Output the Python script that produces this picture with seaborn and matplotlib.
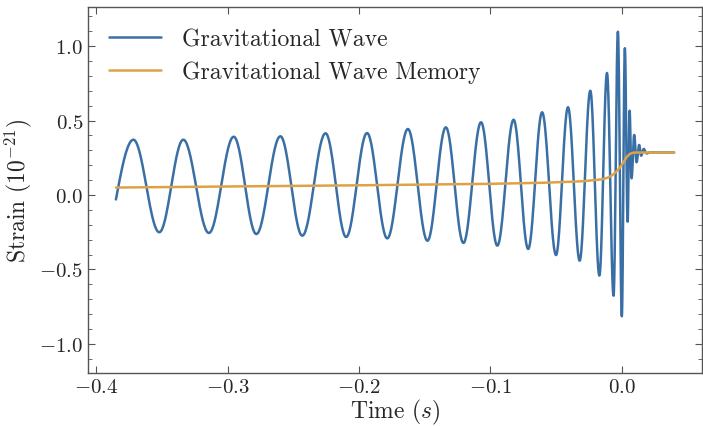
import numpy as np
import pandas as pd
import seaborn as sns
import matplotlib
matplotlib.use("Agg")
import matplotlib.pyplot as plt
from matplotlib.ticker import MultipleLocator

# ---- data ----
# start of the waveform
wave_start_time = -0.385
wave_start_value = -0.03
# successive extrema (peaks / troughs) of the gravitational wave strain
wave_ext_times = [-0.3717, -0.3520, -0.3337, -0.3142, -0.2953, -0.2781, -0.2598,
                  -0.2431, -0.2254, -0.2097, -0.1938, -0.1784, -0.1627, -0.1478,
                  -0.1338, -0.1204, -0.1070, -0.0946, -0.0822, -0.0711, -0.0605,
                  -0.0499, -0.0408, -0.0319, -0.0238, -0.0169, -0.0111, -0.0061,
                  -0.0028, 0.0002, 0.0025, 0.0046, 0.0061, 0.0076, 0.0096,
                  0.0114, 0.0134, 0.0149, 0.0169, 0.0190, 0.0215]
wave_ext_values = [0.371, -0.250, 0.371, -0.255, 0.391, -0.262, 0.394,
                   -0.273, 0.414, -0.282, 0.416, -0.291, 0.443, -0.307,
                   0.454, -0.322, 0.488, -0.340, 0.505, -0.362, 0.555,
                   -0.403, 0.589, -0.441, 0.700, -0.541, 0.819, -0.676,
                   1.096, -0.814, 0.985, -0.179, 0.566, 0.112, 0.403,
                   0.220, 0.336, 0.264, 0.309, 0.279, 0.286]
wave_end_time = 0.04
wave_end_value = 0.285

# gravitational wave memory
memory_times = [-0.385, -0.30, -0.20, -0.10, -0.06, -0.03, -0.015, -0.010,
                -0.006, -0.003, 0.0, 0.002, 0.004, 0.006, 0.008, 0.010, 0.04]
memory_values = [0.050, 0.057, 0.065, 0.075, 0.082, 0.092, 0.105, 0.118,
                 0.140, 0.165, 0.200, 0.228, 0.255, 0.274, 0.282, 0.285, 0.285]

# ---- smooth rendering of the waveform between read extrema ----
ts, vs = [], []
# first rising quarter (start -> first peak)
s = np.linspace(0, 1, 40)
ts += list(wave_start_time + (wave_ext_times[0] - wave_start_time) * s)
vs += list(wave_start_value + (wave_ext_values[0] - wave_start_value) * np.sin(np.pi / 2 * s))
for i in range(len(wave_ext_times) - 1):
    t0, t1 = wave_ext_times[i], wave_ext_times[i + 1]
    v0, v1 = wave_ext_values[i], wave_ext_values[i + 1]
    s = np.linspace(0, 1, 40)[1:]
    ts += list(t0 + (t1 - t0) * s)
    vs += list(v0 + (v1 - v0) * (1 - np.cos(np.pi * s)) / 2)
ts += [wave_end_time]
vs += [wave_end_value]

wave_df = pd.DataFrame({"Time": ts, "Strain": vs})
mem_df = pd.DataFrame({"Time": memory_times, "Strain": memory_values})

# ---- style ----
sns.set_theme(style="ticks")
plt.rcParams.update({
    "font.family": "serif",
    "font.serif": ["cmr10"],
    "mathtext.fontset": "cm",
    "axes.formatter.use_mathtext": True,
    "axes.unicode_minus": True,
})

fig = plt.figure(figsize=(7.03, 4.27), dpi=100)
ax = fig.add_axes([0.1252, 0.1241, 0.8734, 0.8572])

blue = "#3a6fa6"
orange = "#dca346"
sns.lineplot(data=wave_df, x="Time", y="Strain", ax=ax, color=blue, lw=1.8,
             sort=False, estimator=None, label="Gravitational Wave")
sns.lineplot(data=mem_df, x="Time", y="Strain", ax=ax, color=orange, lw=1.8,
             sort=False, estimator=None, label="Gravitational Wave Memory")

ax.set_xlim(-0.40625, 0.06125)
ax.set_ylim(-1.195, 1.262)
ax.xaxis.set_major_locator(MultipleLocator(0.1))
ax.yaxis.set_major_locator(MultipleLocator(0.5))
ax.yaxis.set_minor_locator(MultipleLocator(0.1))
ax.tick_params(which="both", direction="in", top=True, right=True,
               labelsize=15, color="#555555")
ax.tick_params(which="major", length=5, width=0.8)
ax.tick_params(which="minor", length=3, width=0.6)
for sp in ax.spines.values():
    sp.set_color("#555555")
    sp.set_linewidth(1.0)

ax.set_xlabel(r"Time ($s$)", fontsize=17, labelpad=1)
ax.set_ylabel(r"Strain $(10^{-21})$", fontsize=17, labelpad=4)

leg = ax.legend(loc="upper left", frameon=False, fontsize=17,
                handlelength=2.2, handletextpad=0.9, labelspacing=0.45,
                borderaxespad=0.5)
for h in leg.get_lines():
    h.set_linewidth(1.8)

fig.savefig("out.png", dpi=100)
